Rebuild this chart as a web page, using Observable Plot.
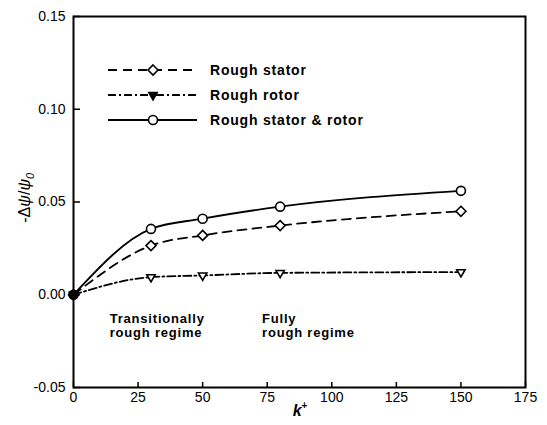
<!DOCTYPE html>
<html><head><meta charset="utf-8">
<script src="https://cdn.jsdelivr.net/npm/d3@7"></script>
<script src="https://cdn.jsdelivr.net/npm/@observablehq/plot@0.6"></script>
<style>body{margin:0;background:#fff}svg{display:block}</style>
</head><body><div id="chart"></div>
<script>
const kPlus = [0, 30, 50, 80, 150];
const roughStator = [0, 0.0265, 0.032, 0.0373, 0.045];
const roughRotor = [0, 0.0095, 0.0104, 0.0118, 0.0122];
const roughBoth = [0, 0.0355, 0.041, 0.0475, 0.056];
const seriesNames = ["Rough stator", "Rough rotor", "Rough stator & rotor"];
const xTicks = [0, 25, 50, 75, 100, 125, 150, 175];
const yTicks = [-0.05, 0, 0.05, 0.10, 0.15];
const notes = ["Transitionally\nrough regime", "Fully\nrough regime"];
const noteX = [14, 73];
const noteY = [-0.0095, -0.0095];

const W = 547, H = 425, mL = 73, mR = 22, mT = 16, mB = 38;
const fw = W - mL - mR, fh = H - mT - mB;
const font = "Liberation Sans, Arial, Helvetica, sans-serif";

const styles = [
  {name: seriesNames[0], vals: roughStator, dash: "9,6", symbol: "diamond2", rotate: 0, r: 4.5},
  {name: seriesNames[1], vals: roughRotor, dash: "8,3,2,3", symbol: "triangle2", rotate: 180, r: 4},
  {name: seriesNames[2], vals: roughBoth, dash: null, symbol: "circle", rotate: 0, r: 4.5}
];
const rows = [];
styles.forEach((s, si) => s.vals.forEach((v, i) => rows.push({s: s.name, si, i, x: kPlus[i], y: v})));

const marks = [];
styles.forEach((s, si) => {
  const d = rows.filter(r => r.si === si);
  marks.push(Plot.line(d, {x: "x", y: "y", curve: "monotone-x", stroke: "black", strokeWidth: 1.8, strokeDasharray: s.dash}));
  marks.push(Plot.dot(d, {x: "x", y: "y", symbol: s.symbol, rotate: s.rotate, r: s.r, stroke: "black", strokeWidth: 1.6,
    fill: r => r.i === 0 ? "black" : "white"}));
});

const chart = Plot.plot({
  width: W, height: H,
  marginLeft: mL, marginRight: mR, marginTop: mT, marginBottom: mB,
  style: {fontFamily: font, fontSize: "13px", background: "white", color: "black"},
  x: {domain: [0, 175]},
  y: {domain: [-0.05, 0.15]},
  marks: [
    Plot.frame({stroke: "black", strokeWidth: 2}),
    Plot.tickY(yTicks, {y: d => d, insetRight: fw - 7, stroke: "black", strokeWidth: 1.5}),
    Plot.tickX(xTicks, {x: d => d, insetTop: fh - 5, stroke: "black", strokeWidth: 1.5}),
    Plot.axisY(yTicks, {tickSize: 0, tickPadding: 8, tickFormat: d => d.toFixed(2), fontSize: 14, label: null}),
    Plot.axisX(xTicks, {tickSize: 0, tickPadding: 5, fontSize: 14, label: null}),
    ...marks,
    Plot.text(notes, {x: (d, i) => noteX[i], y: (d, i) => noteY[i], text: d => d, textAnchor: "start", lineAnchor: "top",
      fontWeight: "bold", fontSize: 13, lineHeight: 1.12, fill: "black"})
  ]
});
document.getElementById("chart").appendChild(chart);

const svg = d3.select(chart);
svg.selectAll("text").filter(function() { return /Transitionally|Fully/.test(this.textContent); })
  .attr("letter-spacing", "0.8px");
// y label
const yl = svg.append("text").attr("transform", `translate(30,${mT + fh * 0.49}) rotate(-90)`)
  .attr("text-anchor", "middle").attr("font-family", font).attr("font-size", 16);
yl.append("tspan").text("-Δ");
yl.append("tspan").attr("font-style", "italic").text("ψ");
yl.append("tspan").text("/");
yl.append("tspan").attr("font-style", "italic").text("ψ");
yl.append("tspan").attr("font-style", "italic").attr("font-size", 11).attr("dy", 4).text("0");
// x label
const xl = svg.append("text").attr("x", 300).attr("y", 416).attr("text-anchor", "middle")
  .attr("font-family", font).attr("font-size", 16).attr("font-weight", "bold");
xl.append("tspan").attr("font-style", "italic").text("k");
xl.append("tspan").attr("font-size", 10).attr("dy", -7).text("+");

// legend
const lg = svg.append("g");
const sym = {diamond2: d3.symbolDiamond2, triangle2: d3.symbolTriangle2, circle: d3.symbolCircle};
styles.forEach((s, i) => {
  const y = 70 + i * 25;
  lg.append("line").attr("x1", 108).attr("x2", 197).attr("y1", y).attr("y2", y)
    .attr("stroke", "black").attr("stroke-width", 1.8).attr("stroke-dasharray", s.dash);
  lg.append("path").attr("d", d3.symbol(sym[s.symbol], Math.PI * s.r * s.r)())
    .attr("transform", `translate(153,${y}) rotate(${s.rotate})`)
    .attr("fill", s.rotate ? "black" : "white").attr("stroke", "black").attr("stroke-width", 1.6);
  lg.append("text").attr("x", 210).attr("y", y + 5).attr("text-anchor", "start").attr("font-family", font).attr("font-size", 14)
    .attr("letter-spacing", "0.8px").attr("font-weight", "bold").text(s.name);
});
</script></body></html>
